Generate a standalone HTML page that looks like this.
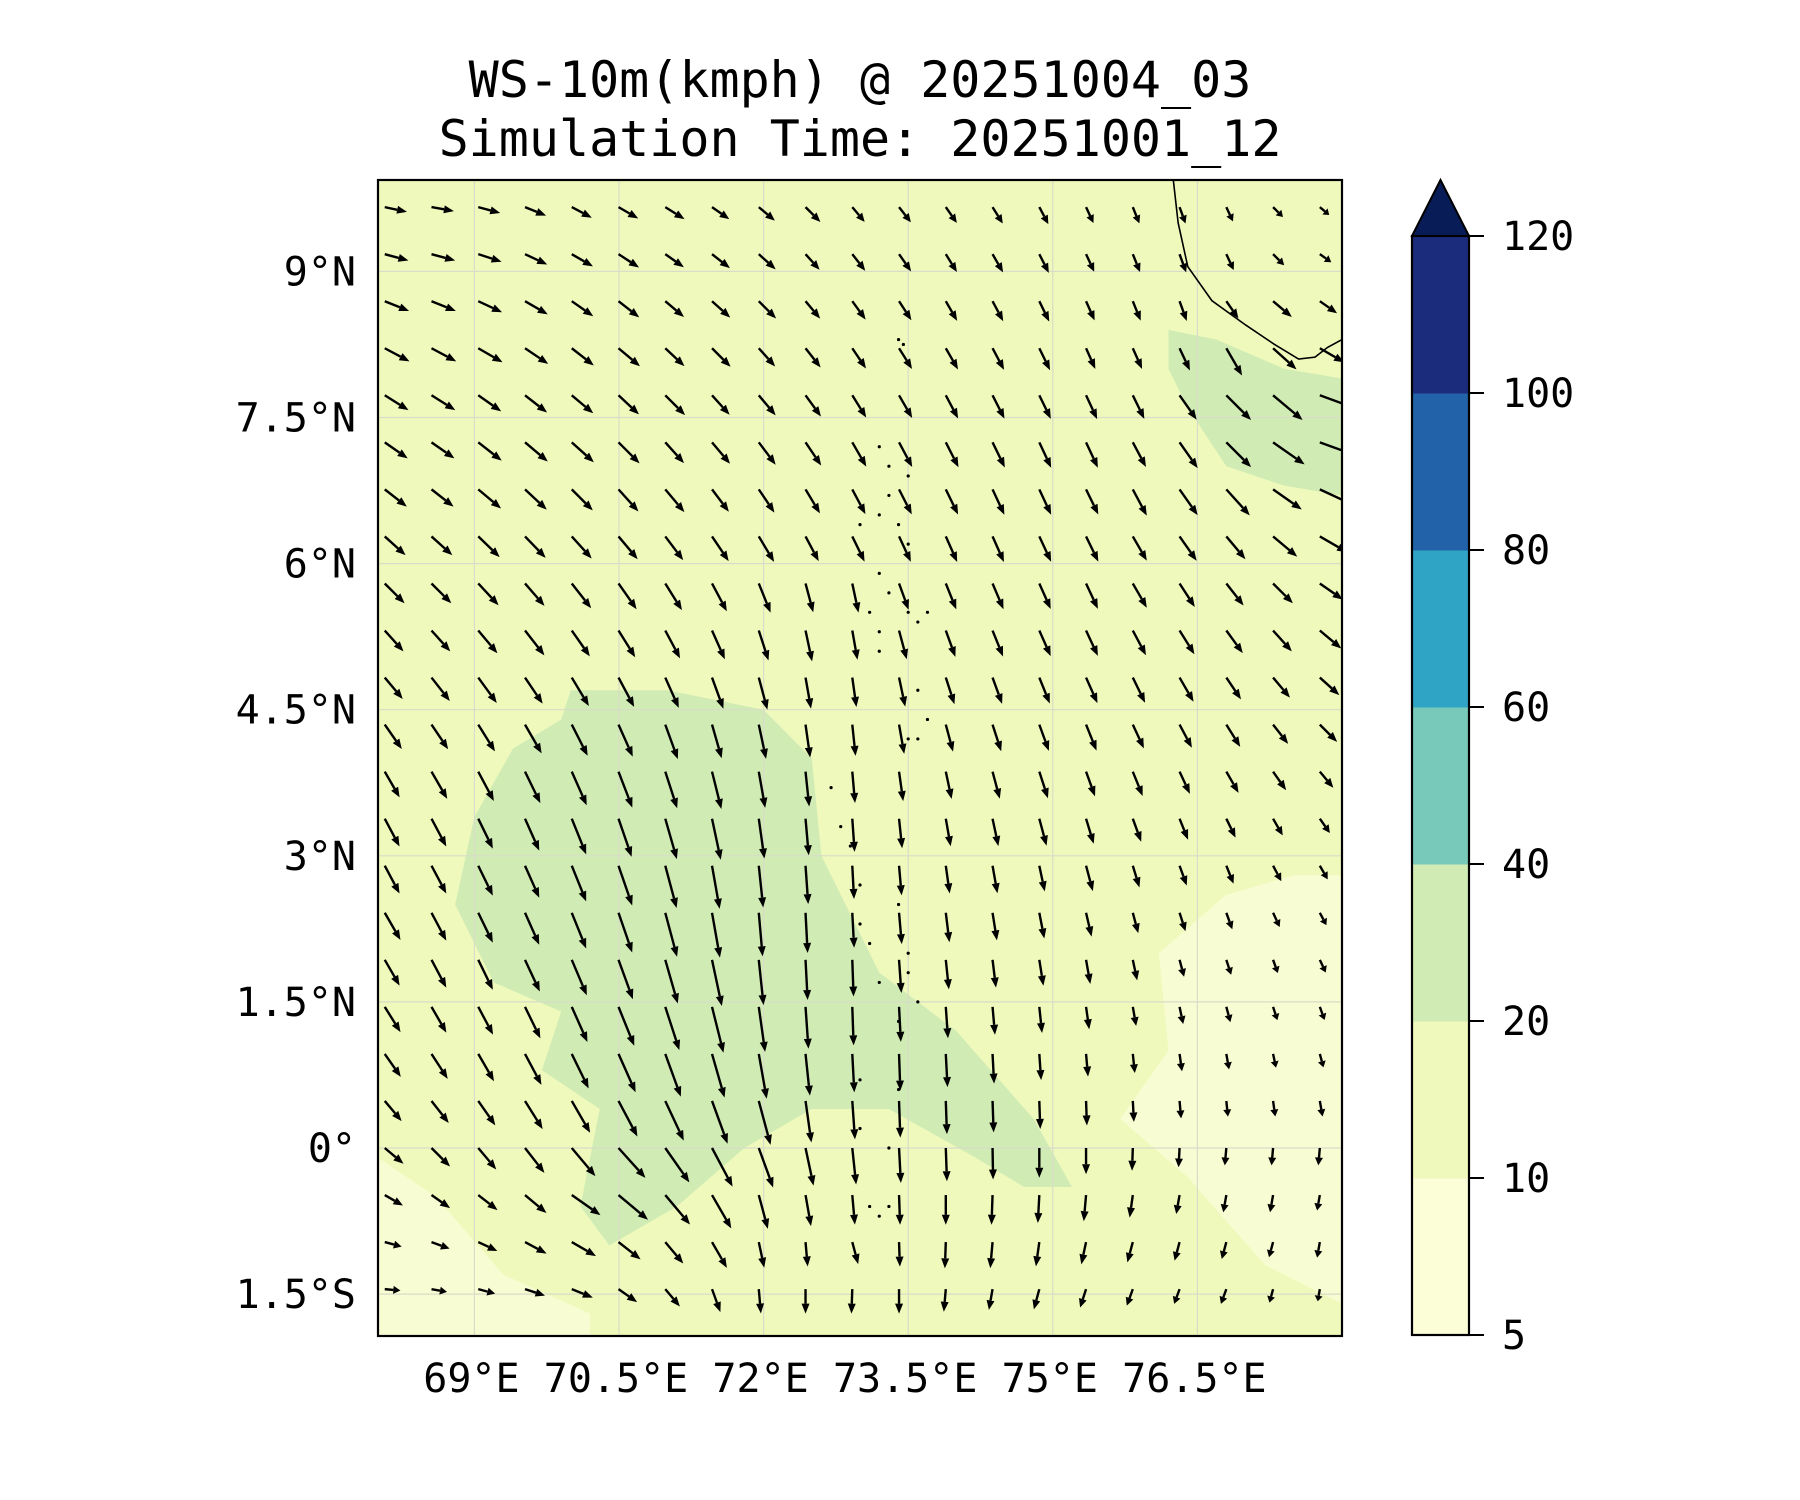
<!DOCTYPE html>
<html><head><meta charset="utf-8"><style>
html,body{margin:0;padding:0;background:#fff}
svg{display:block}
text{font-family:"DejaVu Sans Mono","Liberation Mono",monospace;fill:#000}
</style></head><body>
<svg id="c" width="1800" height="1500" viewBox="0 0 1800 1500" xmlns="http://www.w3.org/2000/svg">
<defs><clipPath id="mc"><rect x="378" y="180" width="964" height="1156"/></clipPath></defs>
<text x="860" y="97" font-size="50" text-anchor="middle">WS-10m(kmph) @ 20251004_03</text>
<text x="860" y="156" font-size="50" text-anchor="middle">Simulation Time: 20251001_12</text>
<g id="map" clip-path="url(#mc)">
<rect x="378" y="180" width="964" height="1156" fill="#f0f9bc"/>
</g>
<g id="axes"></g>
<g id="cbar"></g>
</svg>
<script>
const lonTicks=[69,70.5,72,73.5,75,76.5];
const lonLabels=["69°E","70.5°E","72°E","73.5°E","75°E","76.5°E"];
const latTicks=[-1.5,0,1.5,3,4.5,6,7.5,9];
const latLabels=["1.5°S","0°","1.5°N","3°N","4.5°N","6°N","7.5°N","9°N"];
const cbLevels=[5,10,20,40,60,80,100,120];
const cbColors=["#fbfed6","#f0f9bc","#d0ecb4","#79c9bb","#2fa4c5","#2262a8","#1c2c7c"];
const gridLon0=68.07, gridLonStep=0.485, gridLat0=9.66, gridLatStep=-0.483;
const dirs=[
[78,80,75,68,62,60,58,55,50,45,40,38,35,32,28,25,22,20,25,45,50],
[75,75,72,65,60,57,55,52,48,42,38,35,32,30,27,25,22,20,25,45,55],
[68,68,65,60,55,52,50,48,45,40,36,33,30,28,26,24,22,20,35,50,55],
[62,62,60,56,52,50,47,45,42,38,34,32,30,28,26,24,24,25,30,48,60],
[58,58,55,52,50,47,45,42,40,36,32,30,28,27,26,25,26,35,45,50,70],
[55,55,52,50,48,45,42,40,37,34,30,28,27,26,25,25,28,35,45,55,70],
[52,52,50,47,45,42,40,37,34,31,28,27,26,25,25,26,28,35,42,55,65],
[48,48,46,44,42,40,37,34,31,28,26,25,24,24,25,26,30,35,40,50,60],
[45,45,43,41,38,35,32,28,22,15,12,20,22,23,24,25,30,33,38,45,55],
[42,42,40,38,35,32,28,24,18,12,10,15,20,22,24,25,28,32,36,42,50],
[40,38,36,34,31,28,24,20,15,10,8,12,18,20,22,24,26,30,34,40,48],
[35,34,32,30,27,24,20,16,12,8,6,10,15,18,20,22,25,28,32,38,45],
[30,30,28,26,24,21,18,14,10,6,5,8,12,15,18,20,22,25,30,35,40],
[28,28,26,24,22,19,16,12,8,5,4,6,10,12,15,17,20,22,26,30,35],
[28,28,26,24,22,19,15,10,6,4,3,5,8,10,12,15,17,20,22,28,30],
[30,28,26,24,22,19,15,10,5,3,3,5,7,9,11,13,15,18,20,25,28],
[30,28,26,25,23,20,16,12,6,3,2,4,6,7,9,10,12,15,18,20,25],
[32,30,28,26,24,22,18,14,8,4,2,3,4,5,6,8,10,12,15,18,20],
[35,33,30,28,26,24,20,16,10,6,3,2,3,3,4,5,6,8,10,12,15],
[40,38,35,32,30,28,25,20,15,8,4,2,2,2,2,2,3,5,6,8,10],
[50,45,40,38,40,42,35,28,20,12,6,3,2,1,0,0,-2,-3,-5,-5,-5],
[60,55,52,50,55,50,40,30,15,10,5,2,0,-2,-3,-5,-8,-10,-10,-10,-10],
[75,70,65,62,60,52,40,30,12,5,15,2,-2,-5,-8,-12,-15,-15,-15,-15,-10],
[85,80,75,72,68,55,40,20,5,0,-2,0,-5,-10,-15,-18,-20,-20,-20,-15,-10],
[70,60,45,40,35,30,20,10,5,0,-5,-8,-12,-15,-20,-22,-25,-25,-20,-15,-10]];
const speeds=[
[13,13,13,13,13,13,13,12,12,12,11,11,11,11,11,10,10,10,9,8,7],
[14,14,14,14,14,14,13,13,13,12,12,12,12,12,12,11,11,11,10,9,8],
[15,15,15,15,15,15,14,14,14,13,13,13,13,13,13,12,12,12,12,14,12],
[16,16,16,16,16,16,15,15,14,14,14,14,14,14,14,13,13,14,18,18,16],
[16,16,16,16,16,16,16,15,15,15,15,15,15,15,15,15,15,17,20,22,22],
[16,16,17,17,17,17,16,16,16,16,16,16,16,16,16,16,16,18,20,22,22],
[16,16,17,17,17,17,17,16,16,16,16,16,16,16,16,16,17,18,20,20,20],
[16,16,17,17,17,17,17,17,17,16,16,16,16,16,16,16,16,17,17,18,18],
[16,16,17,17,18,18,18,18,18,17,17,16,16,16,16,16,16,16,16,16,16],
[16,16,17,18,18,18,18,18,18,18,17,17,16,16,16,16,16,16,16,16,16],
[16,17,18,18,19,19,19,19,19,18,17,17,16,16,16,16,16,16,15,15,15],
[17,17,18,19,20,20,21,20,20,19,18,17,16,16,16,16,15,15,15,14,14],
[17,18,19,20,21,22,22,22,21,20,18,17,16,16,16,15,15,14,14,13,12],
[18,18,19,20,22,23,24,24,23,21,19,17,16,16,16,15,14,13,12,11,10],
[18,18,19,20,22,24,25,25,24,22,19,17,16,16,15,15,13,12,11,10,9],
[18,18,19,20,22,24,26,26,25,23,20,18,17,16,15,14,12,11,10,9,8],
[17,18,19,20,22,24,26,27,26,23,21,19,17,16,15,14,12,10,9,8,8],
[17,17,18,20,22,24,26,27,26,24,22,20,18,16,15,13,11,10,9,8,8],
[16,17,18,20,22,24,26,26,26,24,22,21,19,17,15,13,11,10,9,8,8],
[15,16,17,19,21,23,25,26,26,24,22,21,19,18,16,14,12,10,9,9,9],
[14,15,16,18,21,23,24,25,24,22,21,20,19,18,17,15,13,11,10,10,10],
[12,13,14,16,20,22,22,22,20,18,17,17,17,17,16,15,13,11,10,10,9],
[10,11,12,14,16,16,16,17,15,14,13,14,15,15,14,13,12,11,10,9,9],
[9,9,10,12,13,13,13,14,14,14,14,14,13,12,12,11,10,9,9,8,7],
[8,9,10,11,11,11,12,12,12,12,12,12,11,11,10,9,9,8,8,7,6]];
const greenBlob=[[70.0,4.7],[71.0,4.7],[72.0,4.5],[72.5,4.0],[72.6,3.0],[73.2,1.8],[74.0,1.2],[74.8,0.3],[75.2,-0.4],[74.7,-0.4],[74.2,-0.1],[73.3,0.4],[72.5,0.4],[71.8,0.0],[71.1,-0.6],[70.4,-1.0],[70.1,-0.6],[70.3,0.4],[69.7,0.8],[69.9,1.4],[69.2,1.7],[68.8,2.5],[69.0,3.4],[69.4,4.1],[69.9,4.4]];
const greenNE=[[76.2,8.4],[76.7,8.3],[77.4,8.0],[78.0,7.9],[78.0,6.7],[77.4,6.8],[76.8,7.0],[76.4,7.6],[76.2,8.0]];
const paleSE=[[76.1,2.0],[76.8,2.6],[77.5,2.8],[78,2.8],[78,-1.6],[77.2,-1.2],[76.4,-0.3],[75.7,0.3],[76.2,1.0]];
const paleSW=[[68,-0.1],[68.6,-0.5],[69.3,-1.3],[70.2,-1.7],[70.2,-2],[68,-2]];
const coast=[[76.25,9.94],[76.3,9.5],[76.4,9.05],[76.65,8.7],[77.0,8.45],[77.3,8.25],[77.55,8.1],[77.72,8.12],[77.85,8.22],[78,8.3]];
const atollDots=[[73.4,8.3],[73.45,8.25],[73.2,7.2],[73.3,7.0],[73.5,6.9],[73.3,6.7],[73.2,6.5],[73.4,6.4],[73.5,6.2],[73.0,6.4],[73.2,5.9],[73.3,5.7],[73.1,5.5],[73.5,5.5],[73.6,5.4],[73.7,5.5],[73.2,5.3],[73.2,5.1],[73.6,4.7],[73.5,4.2],[73.6,4.2],[73.7,4.4],[72.7,3.7],[72.8,3.3],[72.9,3.1],[73.0,2.7],[73.0,2.3],[73.1,2.1],[73.4,2.5],[73.5,2.0],[73.2,1.7],[73.5,1.8],[73.6,1.5],[73.4,1.3],[73.4,0.6],[73.0,0.7],[73.0,0.2],[73.3,0.0],[73.1,-0.6],[73.2,-0.7],[73.3,-0.6]];
const NS='http://www.w3.org/2000/svg';
const X=lon=>378+(lon-68)*96.4;
const Y=lat=>1148-lat*97.4;
function mk(t,a,p){const e=document.createElementNS(NS,t);for(const k in a)e.setAttribute(k,a[k]);p.appendChild(e);return e;}
const map=document.getElementById('map'),ax=document.getElementById('axes'),cb=document.getElementById('cbar');
function poly(pts,fill,name){const e=mk('polygon',{points:pts.map(p=>X(p[0])+','+Y(p[1])).join(' '),fill:fill},map);

}
poly(paleSE,'#f8fcd2','pale-region-se');
poly(paleSW,'#f8fcd2','pale-region-sw');
poly(greenBlob,'#d0ecb4','wind-20-40-central');
poly(greenNE,'#d0ecb4','wind-20-40-northeast');
lonTicks.forEach(l=>{const e=mk('line',{x1:X(l),x2:X(l),y1:180,y2:1336,stroke:'#d8dcc8','stroke-width':1.2},map);

});
latTicks.forEach(l=>{const e=mk('line',{x1:378,x2:1342,y1:Y(l),y2:Y(l),stroke:'#d8dcc8','stroke-width':1.2},map);

});
const cl=mk('polyline',{points:coast.map(p=>X(p[0])+','+Y(p[1])).join(' '),fill:'none',stroke:'#000','stroke-width':1.6},map);


atollDots.forEach(p=>{const e=mk('circle',{cx:X(p[0]),cy:Y(p[1]),r:1.6,fill:'#000'},map);

});
dirs.forEach((row,i)=>row.forEach((d,j)=>{
 const s=speeds[i][j],L=s*1.75,a=d*Math.PI/180;
 const x0=X(gridLon0+j*gridLonStep),y0=Y(gridLat0+i*gridLatStep);
 const dx=Math.sin(a),dy=Math.cos(a);
 const x1=x0+dx*L,y1=y0+dy*L,hl=Math.min(10,L*0.45),hw=4;
 const bx=x1-dx*hl,by=y1-dy*hl;
 const g=mk('g',{},map);
 
 
 mk('line',{x1:x0,y1:y0,x2:bx,y2:by,stroke:'#000','stroke-width':2.4},g);
 mk('polygon',{points:`${x1},${y1} ${bx+dy*hw},${by-dx*hw} ${bx-dy*hw},${by+dx*hw}`,fill:'#000'},g);
}));
const fr=mk('rect',{x:378,y:180,width:964,height:1156,fill:'none',stroke:'#000','stroke-width':2.2},ax);


lonTicks.forEach((l,i)=>{const t=mk('text',{x:X(l)-3,y:1392,'font-size':40,'text-anchor':'middle'},ax);t.textContent=lonLabels[i];

});
latTicks.forEach((l,i)=>{const t=mk('text',{x:356,y:Y(l)+14,'font-size':40,'text-anchor':'end'},ax);t.textContent=latLabels[i];

});
const cbX=1412,cbW=57,cbTop=236,cbBot=1335,seg=(cbBot-cbTop)/(cbLevels.length-1);
const CY=i=>cbBot-i*seg;
cbColors.forEach((c,i)=>{const e=mk('rect',{x:cbX,y:CY(i+1),width:cbW,height:seg+0.5,fill:c},cb);

});
const tip=mk('polygon',{points:`${cbX},${cbTop} ${cbX+cbW/2},180 ${cbX+cbW},${cbTop}`,fill:'#081d58',stroke:'#000','stroke-width':2},cb);


const cf=mk('rect',{x:cbX,y:cbTop,width:cbW,height:cbBot-cbTop,fill:'none',stroke:'#000','stroke-width':2.2},cb);


cbLevels.forEach((v,i)=>{mk('line',{x1:cbX+cbW,x2:cbX+cbW+15,y1:CY(i),y2:CY(i),stroke:'#000','stroke-width':2},cb);
const t=mk('text',{x:1502,y:CY(i)+14,'font-size':40},cb);t.textContent=v;

});
</script>
</body></html>
